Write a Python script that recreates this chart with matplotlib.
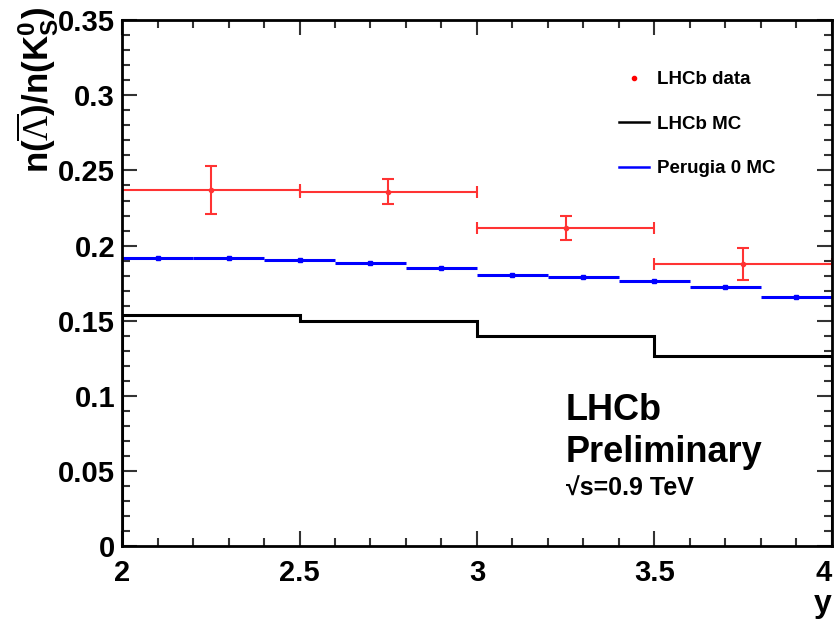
import matplotlib
matplotlib.use("Agg")
import matplotlib.pyplot as plt
from matplotlib.ticker import MultipleLocator
from matplotlib.lines import Line2D

plt.rcParams['font.family'] = ['Liberation Sans', 'DejaVu Sans']
plt.rcParams['mathtext.fontset'] = 'custom'
plt.rcParams['mathtext.rm'] = 'Liberation Sans:bold'
plt.rcParams['mathtext.it'] = 'Liberation Sans:bold'
plt.rcParams['mathtext.bf'] = 'Liberation Sans:bold'
plt.rcParams['mathtext.sf'] = 'Liberation Serif'

# LHCb data: ratio in 0.5-wide rapidity bins
data_x = [2.25, 2.75, 3.25, 3.75]
data_y = [0.237, 0.236, 0.212, 0.188]
data_err = [0.016, 0.0085, 0.008, 0.0105]
data_xerr = [0.25, 0.25, 0.25, 0.25]

# LHCb MC histogram (bin edges + contents)
mc_edges = [2.0, 2.5, 3.0, 3.5, 4.0]
mc_vals = [0.154, 0.1497, 0.140, 0.1267]

# Perugia 0 MC in 0.2-wide bins
per_x = [2.1, 2.3, 2.5, 2.7, 2.9, 3.1, 3.3, 3.5, 3.7, 3.9]
per_y = [0.1916, 0.1916, 0.1902, 0.1887, 0.1850, 0.1807, 0.1793, 0.1765, 0.1727, 0.1660]
per_err = [0.0005] * 10

fig = plt.figure(figsize=(8.38, 6.26), dpi=100)
ax = fig.add_axes([0.1456, 0.1270, 0.8472, 0.8410])

ax.stairs(mc_vals, mc_edges, color='black', lw=2.2)
ax.errorbar(per_x, per_y, xerr=0.1, yerr=per_err, fmt='s', color='blue',
            ms=2.5, lw=2.2, capsize=0, elinewidth=2.2)
ax.errorbar(data_x, data_y, xerr=data_xerr, yerr=data_err, fmt='o', color='#ff3333',
            ms=3, lw=1.5, capsize=4, capthick=1.5, elinewidth=1.5)

ax.set_xlim(2, 4)
ax.set_ylim(0, 0.35)
ax.xaxis.set_minor_locator(MultipleLocator(0.1))
ax.yaxis.set_minor_locator(MultipleLocator(0.01))
ax.set_xticks([2, 2.5, 3, 3.5, 4], ['2', '2.5', '3', '3.5', '4'])
ax.set_yticks([0, 0.05, 0.1, 0.15, 0.2, 0.25, 0.3, 0.35],
              ['0', '0.05', '0.1', '0.15', '0.2', '0.25', '0.3', '0.35'])
ax.tick_params(which='both', direction='in', top=True, right=True,
               labelsize=21, width=1.5, color='#333333')
ax.tick_params(which='major', length=11)
ax.tick_params(which='minor', length=5.5)
ax.tick_params(axis='x', pad=9)
ax.tick_params(axis='y', pad=5)
for lab in ax.get_xticklabels() + ax.get_yticklabels():
    lab.set_fontweight('bold')
ax.get_xticklabels()[-1].set_horizontalalignment('right')
for sp in ax.spines.values():
    sp.set_linewidth(2)

ax.set_xlabel('y', fontsize=23, fontweight='bold', loc='right')
ax.xaxis.set_label_coords(1.0, -0.08)
ax.set_ylabel(r'n($\overline{\mathsf{\Lambda}}$)/n(K$_S^0$)', fontsize=25, fontweight='bold',
              loc='top')
ax.yaxis.set_label_coords(-0.086, 1.025)

handles = [
    Line2D([], [], color='red', marker='o', ms=3, ls='none'),
    Line2D([], [], color='black', lw=1.8),
    Line2D([], [], color='blue', lw=1.8),
]
leg = ax.legend(handles, ['LHCb data', 'LHCb MC', 'Perugia 0 MC'],
                loc='upper left', bbox_to_anchor=(0.676, 0.935), frameon=False,
                handlelength=1.6, handletextpad=0.43, labelspacing=1.46,
                prop={'weight': 'bold', 'size': 13.5})

ax.text(0.625, 0.241, 'LHCb', transform=ax.transAxes, fontsize=26, fontweight='bold')
ax.text(0.625, 0.160, 'Preliminary', transform=ax.transAxes, fontsize=26, fontweight='bold')
ax.text(0.625, 0.097, '\u221as=0.9 TeV', transform=ax.transAxes, fontsize=18, fontweight='bold')

fig.savefig('out.png', dpi=100)
